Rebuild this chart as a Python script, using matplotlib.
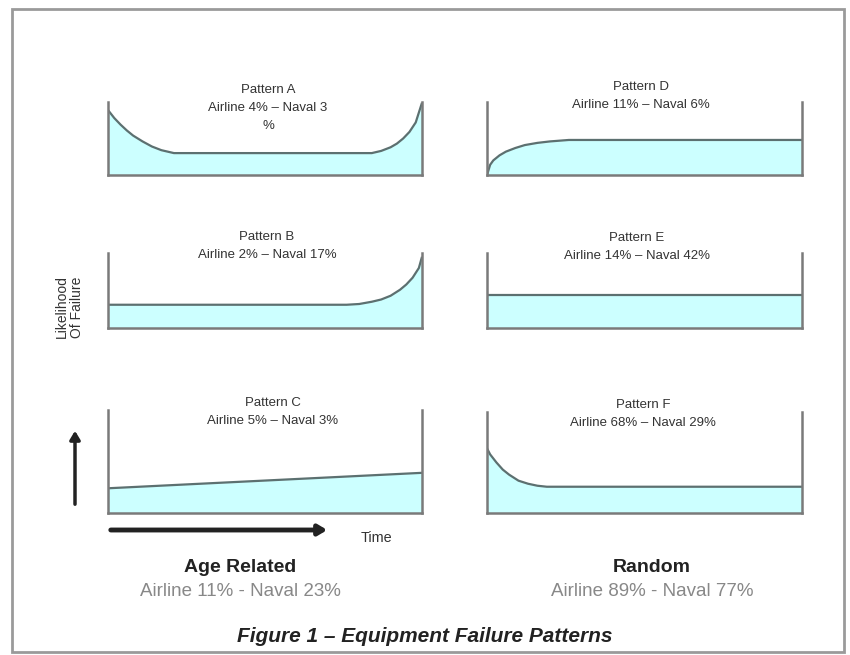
"""
failure_patterns.py
-------------------
Redraws the classic six equipment failure patterns (A-F) with the
airline / naval percentages, grouped into age related and random.
"""

import matplotlib
matplotlib.use("Agg")
import matplotlib.pyplot as plt
from matplotlib.patches import FancyArrowPatch, Rectangle

W, H = 850, 655
FONT = "Liberation Sans"
FILL = "#ccffff"
CURVE = "#5c7070"
WALL = "#7a7a7a"

# curve points per pattern: time (0-100) vs likelihood (0-100 of the wall height)
a_x = [0, 2, 4, 6, 8, 11, 14, 17, 21, 84, 87, 90, 92, 94, 96, 98, 100]
a_y = [89, 78, 69, 61, 54, 46, 39, 34, 30, 30, 33, 38, 43, 50, 59, 72, 99]

b_x = [0, 76, 80, 84, 87, 90, 93, 95, 97, 99, 100]
b_y = [31, 31, 32, 35, 38, 43, 51, 58, 67, 80, 95]

c_x = [0, 100]
c_y = [24, 39]

d_x = [0, 1, 2, 4, 6, 9, 12, 16, 20, 26, 100]
d_y = [0, 14, 20, 27, 32, 37, 41, 44, 46, 48, 48]

e_x = [0, 100]
e_y = [44, 44]

f_x = [0, 1, 3, 5, 7, 10, 13, 16, 19, 100]
f_y = [64, 58, 50, 43, 38, 32, 29, 27, 26, 26]

pattern_names = ["Pattern A", "Pattern B", "Pattern C",
                 "Pattern D", "Pattern E", "Pattern F"]
pattern_stats = ["Airline 4% \u2013 Naval 3\n%", "Airline 2% \u2013 Naval 17%",
                 "Airline 5% \u2013 Naval 3%", "Airline 11% \u2013 Naval 6%",
                 "Airline 14% \u2013 Naval 42%", "Airline 68% \u2013 Naval 29%"]
group_names = ["Age Related", "Random"]
group_stats = ["Airline 11% - Naval 23%", "Airline 89% - Naval 77%"]


def fx(px):
    return px / W


def fy(py):
    return 1 - py / H


def panel(fig, box, xs, ys):
    x0, y0, x1, y1 = box
    ax = fig.add_axes([fx(x0), fy(y1), fx(x1 - x0), (y1 - y0) / H])
    ax.set_xlim(0, 100)
    ax.set_ylim(0, 100)
    ax.fill_between(xs, 0, ys, color=FILL, lw=0)
    ax.plot(xs, ys, color=CURVE, lw=1.6, solid_capstyle="butt")
    ax.spines["top"].set_visible(False)
    for side in ("left", "right", "bottom"):
        ax.spines[side].set_color(WALL)
        ax.spines[side].set_linewidth(1.8)
    ax.set_xticks([])
    ax.set_yticks([])
    ax.patch.set_alpha(0)
    return ax


def main():
    fig = plt.figure(figsize=(W / 100, H / 100), dpi=100)

    # outer frame
    fig.add_artist(Rectangle((fx(12), fy(652)), fx(832), (652 - 9) / H,
                             transform=fig.transFigure, fill=False,
                             ec="#9a9a9a", lw=2))

    boxes = [(108, 102, 422, 175), (108, 253, 422, 328), (108, 410, 422, 513),
             (487, 102, 802, 175), (487, 253, 802, 328), (487, 412, 802, 513)]
    curves = [(a_x, a_y), (b_x, b_y), (c_x, c_y), (d_x, d_y), (e_x, e_y), (f_x, f_y)]
    text_pos = [(268, 90), (267, 237), (273, 403), (641, 87), (637, 238), (643, 405)]

    for box, (xs, ys), (tx, ty), name, stats in zip(boxes, curves, text_pos,
                                                     pattern_names, pattern_stats):
        panel(fig, box, xs, ys)
        lines = [name] + stats.split("\n")
        for k, line in enumerate(lines):
            fig.text(fx(tx), fy(ty + 18 * k), line, ha="center", va="center",
                     fontsize=9.5, family=FONT, color="#333333")

    # y label
    fig.text(fx(69), fy(307), "Likelihood\nOf Failure", rotation=90, ha="center",
             va="center", fontsize=10, family=FONT, color="#333333",
             linespacing=1.1)

    # arrows
    fig.add_artist(FancyArrowPatch(
        (fx(75), fy(507)), (fx(75), fy(428)), transform=fig.transFigure,
        arrowstyle="-|>,head_length=5,head_width=3", lw=2.5, color="#222222"))
    fig.add_artist(FancyArrowPatch(
        (fx(108), fy(530)), (fx(330), fy(530)), transform=fig.transFigure,
        arrowstyle="-|>,head_length=5,head_width=3", lw=3.5, color="#222222"))
    fig.text(fx(376), fy(538), "Time", ha="center", va="center", fontsize=10.4,
             family=FONT, color="#333333")

    for cx, name, stats in zip([240, 652], group_names, group_stats):
        fig.text(fx(cx), fy(568), name, ha="center", va="center", fontsize=14,
                 weight="bold", family=FONT, color="#222222")
        fig.text(fx(cx), fy(591), stats, ha="center", va="center", fontsize=13.5,
                 family=FONT, color="#888888")

    fig.text(fx(425), fy(636), "Figure 1 \u2013 Equipment Failure Patterns",
             ha="center", va="center", fontsize=15, weight="bold",
             style="italic", family=FONT, color="#222222")

    fig.savefig("out.png", dpi=100)
    plt.close(fig)


if __name__ == "__main__":
    main()
